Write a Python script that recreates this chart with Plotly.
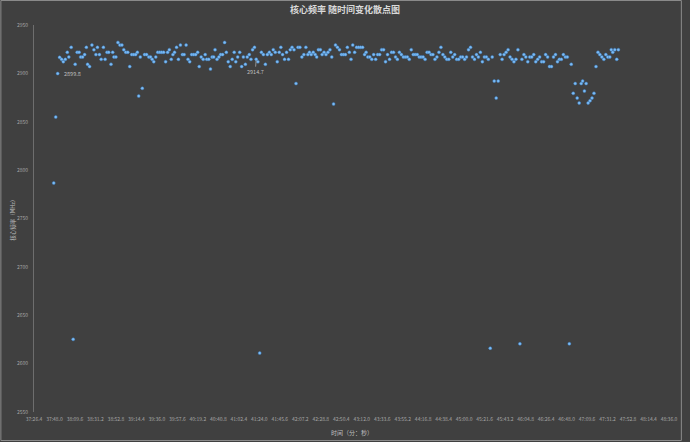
import plotly.graph_objects as go

# seconds after 37:00.0 for each sample
time_sec = [
    47.2, 49.3, 51.4, 53.4, 55.5, 57.3, 59.4, 61.5, 63.1, 65.6, 67.7, 69.8, 71.9, 74.0, 75.6, 77.7,
    79.8, 81.6, 82.9, 85.0, 87.5, 89.6, 91.7, 93.3, 95.4, 97.2, 99.6, 101.4, 103.4, 105.2, 107.6, 109.4,
    110.7, 112.8, 114.9, 117.0, 119.1, 121.1, 123.2, 125.3, 127.4, 129.5, 131.6, 133.6, 135.4, 136.8, 138.5, 140.6,
    143.0, 145.1, 147.5, 149.3, 151.0, 152.7, 154.8, 156.9, 159.0, 161.0, 163.1, 165.2, 167.3, 169.1, 171.1, 172.9,
    174.6, 176.7, 178.7, 180.8, 182.9, 184.7, 186.8, 188.8, 190.6, 192.7, 194.8, 196.9, 199.0, 200.6, 202.7, 204.8,
    206.9, 208.6, 210.7, 212.5, 214.2, 215.9, 217.3, 219.4, 221.4, 223.2, 225.3, 227.4, 229.2, 231.2, 233.3, 235.4,
    237.5, 239.2, 241.2, 243.3, 245.4, 247.2, 249.3, 251.3, 253.4, 255.2, 256.9, 258.9, 260.7, 262.5, 264.4, 266.2,
    268.3, 270.4, 272.5, 274.6, 276.6, 278.7, 280.8, 282.9, 285.0, 286.7, 288.5, 290.6, 292.7, 294.8, 296.6, 298.5,
    300.6, 302.7, 304.8, 306.8, 308.9, 311.0, 313.1, 315.2, 316.9, 318.7, 320.8, 322.9, 324.5, 326.3, 328.4, 330.2,
    332.3, 334.3, 336.4, 338.5, 340.4, 342.3, 344.3, 346.4, 348.5, 350.6, 352.7, 354.8, 356.8, 358.9, 360.7, 362.5,
    364.5, 366.6, 368.7, 370.8, 372.9, 375.0, 376.6, 378.4, 380.5, 382.6, 384.6, 386.7, 388.8, 390.9, 393.0, 395.1,
    397.1, 399.2, 401.3, 403.4, 405.5, 407.6, 409.6, 411.7, 413.8, 415.9, 418.0, 420.1, 422.1, 424.2, 426.3, 428.4,
    430.5, 432.6, 434.6, 436.7, 438.8, 440.9, 443.0, 445.1, 447.1, 449.2, 451.3, 453.4, 455.5, 457.6, 459.6, 461.7,
    463.8, 465.9, 468.0, 470.0, 472.1, 474.2, 476.3, 478.4, 480.5, 482.5, 484.6, 486.7, 488.8, 490.9, 493.0, 495.0,
    497.1, 499.2, 501.3, 503.4, 505.5, 507.5, 509.6, 511.7, 513.8, 515.9, 518.0, 520.0, 522.1, 524.2, 526.3, 528.4,
    530.5, 532.5, 534.6, 536.7, 538.8, 540.9, 543.0, 545.0, 547.1, 549.2, 551.3, 553.4, 555.5, 557.5, 559.6, 561.7,
    563.8, 565.9, 568.0, 570.0, 572.1, 574.2, 576.3, 578.4, 580.4, 582.5, 584.6, 586.7, 588.8, 590.9, 592.9, 595.0,
    597.1, 599.2, 601.3, 603.4, 604.9, 606.8, 608.6, 610.7, 612.7, 614.8, 616.9, 619.0, 621.1, 623.1, 625.2, 627.3,
    629.4, 631.5, 633.6, 635.1, 636.7, 638.8, 640.9, 642.6,
]

freq_mhz = [
    2786.7, 2854.9, 2899.8, 2916.6, 2914.5, 2912.1, 2914.5, 2921.8, 2917.0, 2926.9, 2625.1, 2909.4, 2921.8, 2921.8, 2917.0, 2917.0,
    2919.4, 2926.9, 2909.4, 2907.0, 2929.3, 2924.5, 2919.4, 2926.9, 2919.4, 2914.5, 2926.9, 2914.5, 2921.8, 2921.8, 2909.4, 2921.8,
    2917.0, 2917.0, 2932.0, 2929.3, 2929.3, 2924.5, 2921.8, 2921.8, 2907.0, 2919.4, 2919.4, 2919.4, 2921.8, 2876.6, 2917.0, 2884.6,
    2919.4, 2919.4, 2917.0, 2917.0, 2914.5, 2912.1, 2917.0, 2921.8, 2921.8, 2921.8, 2921.8, 2912.1, 2921.8, 2924.5, 2914.5, 2919.4,
    2921.8, 2926.9, 2914.5, 2929.3, 2919.4, 2919.4, 2929.3, 2914.5, 2912.1, 2919.4, 2919.4, 2919.4, 2921.8, 2907.0, 2917.0, 2914.5,
    2919.4, 2914.5, 2914.5, 2904.5, 2917.0, 2917.0, 2924.5, 2914.5, 2917.0, 2919.4, 2919.4, 2932.0, 2921.8, 2912.1, 2907.0, 2914.5,
    2921.8, 2912.1, 2917.0, 2921.8, 2907.0, 2917.0, 2909.4, 2917.0, 2919.4, 2914.5, 2924.5, 2926.9, 2914.7, 2912.1, 2610.9, 2921.8,
    2919.4, 2909.4, 2919.4, 2921.8, 2919.4, 2924.5, 2921.8, 2912.1, 2921.8, 2926.9, 2919.4, 2914.5, 2921.8, 2914.5, 2924.5, 2926.9,
    2924.5, 2889.5, 2926.9, 2926.9, 2917.0, 2919.4, 2926.9, 2919.4, 2921.8, 2919.4, 2921.8, 2919.4, 2917.0, 2924.5, 2924.5, 2919.4,
    2921.8, 2919.4, 2921.8, 2924.5, 2917.0, 2868.4, 2929.3, 2926.9, 2924.5, 2919.4, 2919.4, 2919.4, 2926.9, 2921.8, 2914.5, 2929.3,
    2921.8, 2926.9, 2926.9, 2926.9, 2926.9, 2919.4, 2921.8, 2917.0, 2917.0, 2914.5, 2919.4, 2914.5, 2919.4, 2919.4, 2924.5, 2924.5,
    2912.1, 2919.4, 2914.5, 2921.8, 2921.8, 2917.0, 2914.5, 2921.8, 2919.4, 2917.0, 2917.0, 2917.0, 2914.5, 2924.5, 2919.4, 2919.4,
    2919.4, 2917.0, 2917.0, 2917.0, 2914.5, 2921.8, 2921.8, 2919.4, 2919.4, 2914.5, 2917.0, 2921.8, 2926.9, 2919.4, 2917.0, 2914.5,
    2914.5, 2921.8, 2917.0, 2919.4, 2914.5, 2914.5, 2917.0, 2917.0, 2914.5, 2917.0, 2924.5, 2926.9, 2917.0, 2914.5, 2919.4, 2917.0,
    2921.8, 2912.1, 2917.0, 2917.0, 2914.5, 2616.0, 2917.0, 2892.1, 2874.5, 2892.1, 2919.4, 2914.5, 2919.4, 2921.8, 2924.5, 2917.0,
    2914.5, 2912.1, 2914.5, 2924.5, 2620.5, 2914.5, 2919.4, 2917.0, 2912.1, 2917.0, 2917.0, 2919.4, 2912.1, 2914.5, 2917.0, 2912.1,
    2912.1, 2919.4, 2917.0, 2907.0, 2907.0, 2917.0, 2919.4, 2912.1, 2914.5, 2914.5, 2919.4, 2917.0, 2917.0, 2620.5, 2909.4, 2879.4,
    2889.5, 2874.5, 2869.4, 2889.5, 2892.1, 2881.8, 2889.5, 2869.4, 2871.8, 2874.5, 2879.4, 2907.0, 2921.8, 2919.4, 2917.0, 2914.5,
    2919.4, 2917.0, 2917.0, 2924.5, 2921.8, 2924.5, 2914.5, 2924.5,
]

tick_labels = [
    "37:26.4", "37:48.0", "38:09.6", "38:31.2", "38:52.8", "39:14.4", "39:36.0", "39:57.6",
    "40:19.2", "40:40.8", "41:02.4", "41:24.0", "41:45.6", "42:07.2", "42:28.8", "42:50.4",
    "43:12.0", "43:33.6", "43:55.2", "44:16.8", "44:38.4", "45:00.0", "45:21.6", "45:43.2",
    "46:04.8", "46:26.4", "46:48.0", "47:09.6", "47:31.2", "47:52.8", "48:14.4", "48:36.0",
]
y_ticks = [2550, 2600, 2650, 2700, 2750, 2800, 2850, 2900, 2950]

# labelled points: (index into the series, label text)
labelled = [(2, "2899.8"), (108, "2914.7")]


def to_sec(label):
    m, s = label.split(":")
    return (int(m) - 37) * 60 + float(s)


tick_vals = [to_sec(t) for t in tick_labels]

BG = "#404040"
TXT = "#a6a6a6"
FONT = "Noto Sans CJK SC, Noto Sans, sans-serif"

W, H = 690, 442
ML, MR, MT, MB = 34, 14, 25, 30
PW, PH = W - ML - MR, H - MT - MB

fig = go.Figure()
fig.add_trace(go.Scatter(
    x=time_sec, y=freq_mhz, mode="markers",
    marker=dict(size=3, color="#7dbcf4", line=dict(width=0.8, color="rgba(60,130,205,0.55)")),
    hoverinfo="x+y", showlegend=False,
))

# data labels like the excel chart
i0, t0 = labelled[0]
fig.add_annotation(x=time_sec[i0], y=freq_mhz[i0], text=t0, showarrow=False,
                   xanchor="left", xshift=4, font=dict(size=5.5, color="#bfbfbf", family=FONT))
i1, t1 = labelled[1]
fig.add_annotation(x=time_sec[i1], y=freq_mhz[i1], text=t1, showarrow=True,
                   arrowhead=0, arrowwidth=0.8, arrowcolor="#a6a6a6", ax=-1, ay=13,
                   standoff=1, font=dict(size=5.5, color="#bfbfbf", family=FONT))

# axis titles
fig.add_annotation(text="时间（分：秒）", xref="paper", yref="paper", x=0.5, y=-20 / PH,
                   showarrow=False, yanchor="middle", font=dict(size=6, color="#bfbfbf", family=FONT))
fig.add_annotation(text="核心频率（MHz）", xref="paper", yref="paper", x=-22 / PW, y=0.5,
                   textangle=-90, showarrow=False, xanchor="center",
                   font=dict(size=5.5, color="#bfbfbf", family=FONT))

# thin outer border
fig.add_shape(type="rect", xref="paper", yref="paper",
              x0=-(ML - 0.5) / PW, x1=1 + (MR - 1.5) / PW,
              y0=-(MB - 1.5) / PH, y1=1 + (MT - 0.5) / PH,
              line=dict(color="#8a8a8a", width=1), layer="below")

fig.update_layout(
    width=W, height=H,
    margin=dict(l=ML, r=MR, t=MT, b=MB),
    paper_bgcolor=BG, plot_bgcolor=BG,
    font=dict(family=FONT, color=TXT, size=5),
    title=dict(text="<b>核心频率 随时间变化散点图</b>", x=0.5, xanchor="center",
               y=1 - 10 / H, yanchor="middle", yref="container",
               font=dict(size=9, color="#d9d9d9", family=FONT)),
    xaxis=dict(range=[tick_vals[0], tick_vals[-1]], tickvals=tick_vals, ticktext=tick_labels,
               showgrid=False, zeroline=False, showline=False, ticks="",
               tickfont=dict(size=5, color=TXT), ticklabelstandoff=3),
    yaxis=dict(range=[2550, 2950], tickvals=y_ticks, showgrid=False, zeroline=False,
               showline=True, linecolor="#6e6e6e", linewidth=1, ticks="",
               tickfont=dict(size=5, color=TXT), ticklabelstandoff=4),
)

# drop the default page margin so the chart sits at the window's corner
fig.write_html("out.html", config={"displayModeBar": False},
               post_script="document.body.style.margin='0';")
